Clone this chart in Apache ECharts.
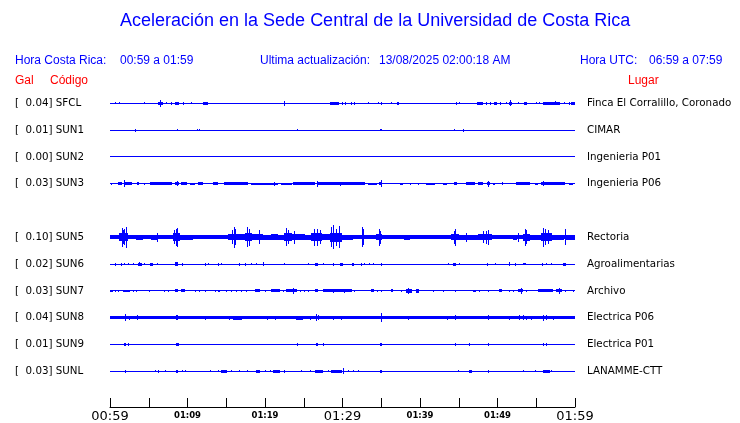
<!DOCTYPE html>
<html>
<head>
<meta charset="utf-8">
<title>Aceleración Sede Central</title>
<script src="https://cdn.jsdelivr.net/npm/echarts@6/dist/echarts.min.js"></script>
<style>
  html, body { margin: 0; padding: 0; background: #fff; }
  #chart { width: 740px; height: 423px; }
</style>
</head>
<body>
<div id="chart"></div>
<script>
// estaciones (fila 4 queda vacia en el grafico)
const codes = ['SFCL', 'SUN1', 'SUN2', 'SUN3', 'SUN5', 'SUN6', 'SUN7', 'SUN8', 'SUN9', 'SUNL'];
const places = ['Finca El Corralillo, Coronado', 'CIMAR', 'Ingenieria P01', 'Ingenieria P06', 'Rectoria',
  'Agroalimentarias', 'Archivo', 'Electrica P06', 'Electrica P01', 'LANAMME-CTT'];
const peakGal = [0.04, 0.01, 0.00, 0.03, 0.10, 0.02, 0.03, 0.04, 0.01, 0.03];
const rows = [0, 1, 2, 3, 5, 6, 7, 8, 9, 10];
// ruido de fondo continuo (Gal)
const noiseGal = [0, 0, 0, 0, 0.016, 0, 0, 0.013, 0, 0];

// eventos: [minuto inicio, minuto fin, amplitud Gal]
const sfcl = [[0.73,0.73,.008],[1.2,1.2,.008],[4.43,4.43,.008],[6.3,6.9,.013],[6.58,6.58,.032],[7.31,7.31,.008],
  [7.96,7.96,.013],[8.5,8.85,.013],[9.46,9.46,.011],[10.49,10.49,.009],[12.0,12.7,.013],[22.49,22.49,.024],
  [28.4,29.6,.013],[30.0,30.0,.012],[30.45,30.45,.012],[31.18,31.18,.011],[31.53,31.53,.011],[33.33,33.33,.008],
  [34.62,34.62,.008],[35.01,35.01,.011],[36.26,36.26,.008],[37.05,37.35,.013],[44.73,44.73,.011],[45.16,45.16,.008],
  [47.4,48.1,.015],[48.6,48.6,.011],[49.16,49.16,.011],[49.6,49.95,.013],[50.45,50.45,.011],[51.1,51.1,.009],
  [51.6,51.9,.013],[51.74,51.74,.026],[52.69,52.69,.009],[53.5,53.75,.013],[55.05,55.05,.008],[55.48,55.48,.009],
  [55.9,58.1,.013],[57.5,57.5,.017],[58.62,58.62,.009],[59.23,59.23,.011],[59.5,60,.013]];
const sun1 = [[3.35,3.35,.013],[8.69,8.69,.008],[11.27,11.27,.011],[11.61,11.61,.011],[24.17,24.17,.008],
  [34.88,35.06,.011],[44.39,44.39,.008],[45.59,45.59,.013]];
const sun2 = [];
const sun3 = [[0.13,0.13,.009],[1.08,1.51,.011],[1.81,1.81,.030],[1.94,2.80,.013],[3.53,3.78,.013],[4.43,4.43,.009],
  [5.25,7.96,.011],[5.8,7.1,.013],[8.47,8.90,.013],[8.73,8.73,.022],[9.25,9.89,.011],[10.45,10.97,.009],
  [11.40,12.04,.011],[13.33,13.98,.013],[14.71,17.85,.013],[18.28,21.72,.010],[21.29,21.29,.017],[22.15,23.44,.010],
  [23.66,26.45,.013],[26.75,26.75,.026],[26.88,32.90,.013],[29.68,29.68,.017],[33.33,34.41,.010],[34.8,35.15,.013],
  [34.97,34.97,.030],[37.42,37.85,.009],[38.71,38.71,.009],[39.78,39.78,.009],[40.86,41.94,.010],[43.01,43.44,.009],
  [44.43,44.73,.013],[46.02,47.10,.013],[47.53,48.17,.013],[48.65,49.0,.013],[48.82,48.82,.026],[49.46,49.68,.009],
  [50.62,50.62,.011],[52.47,54.19,.013],[54.84,55.27,.010],[55.70,58.71,.013],[55.91,55.91,.020],[59.35,59.78,.010]];
const sun5 = [[0,1.29,.018],[1.29,2.37,.034],[1.59,1.59,.081],[1.72,1.72,.060],[1.85,1.85,.070],[2.15,2.15,.093],
  [2.37,3.44,.018],[3.44,4.30,.023],[4.30,8.17,.017],[5.38,6.24,.020],[6.11,6.11,.039],
  [8.17,9.03,.034],[8.35,8.35,.060],[8.52,8.52,.072],[8.69,8.69,.084],[9.03,10.75,.020],
  [10.75,13.12,.016],[12.26,12.69,.018],[13.12,15.27,.018],[15.27,16.56,.028],[15.8,15.8,.060],[16.04,16.04,.091],
  [16.22,16.22,.070],[16.56,17.42,.025],[17.42,18.28,.034],[17.68,17.68,.087],[17.94,17.94,.074],[18.28,19.78,.025],
  [19.23,19.23,.061],[19.78,22.58,.021],[20.86,21.72,.026],[22.58,23.44,.034],[22.80,22.80,.078],[23.01,23.01,.061],
  [23.44,25.16,.026],[23.87,23.87,.057],[25.16,26.02,.020],[26.02,27.31,.035],[26.45,26.45,.076],[26.80,26.80,.072],
  [27.10,27.10,.061],[27.31,28.39,.026],[28.39,29.89,.038],[28.60,28.60,.087],[28.82,28.82,.107],[29.2,29.2,.075],
  [29.59,29.59,.096],[29.89,31.40,.023],[31.40,34.41,.018],[32.56,32.56,.087],[32.69,32.69,.070],
  [34.41,35.14,.028],[34.71,34.71,.072],[34.88,34.88,.057],[35.14,39.14,.018],[38.06,38.71,.023],[39.14,44.09,.016],
  [39.78,42.37,.018],[44.09,45.03,.028],[44.43,44.43,.057],[44.60,44.60,.072],[45.03,47.53,.020],[46.02,46.02,.039],
  [46.56,47.10,.023],[47.53,49.25,.028],[48.17,48.17,.052],[48.6,48.6,.057],[48.82,48.82,.067],[49.25,53.33,.018],
  [52.1,52.5,.021],[52.69,52.69,.039],[53.33,54.19,.030],[53.55,53.55,.072],[53.76,53.76,.061],[54.19,55.70,.020],
  [55.70,56.99,.034],[55.91,55.91,.081],[56.13,56.13,.070],[56.56,56.56,.061],[56.99,58.62,.020],[58.80,58.80,.070],
  [58.92,60,.023]];
const sun6 = [[0.65,0.8,.013],[1.51,1.51,.013],[1.85,1.85,.011],[2.45,2.45,.009],[3.01,3.01,.009],[3.66,4.09,.013],
  [3.87,3.87,.020],[4.43,4.43,.009],[5.25,5.59,.013],[6.15,6.15,.009],[8.39,8.82,.015],[9.33,9.33,.013],
  [12.26,12.26,.013],[12.69,12.69,.009],[14.06,14.06,.013],[14.41,14.41,.009],[16.77,16.77,.013],[17.42,17.42,.013],
  [18.28,18.28,.009],[18.92,18.92,.009],[19.78,19.78,.017],[22.58,22.58,.009],[25.59,25.59,.009],[26.54,26.80,.013],
  [27.61,27.61,.011],[28.82,28.82,.013],[29.72,30.11,.013],[31.27,31.53,.013],[32.47,32.47,.013],[32.82,32.82,.011],
  [33.42,33.42,.011],[34.02,34.02,.011],[34.97,34.97,.013],[43.66,43.66,.011],[44.30,44.60,.013],[45.08,45.08,.009],
  [48.73,48.73,.013],[49.76,49.76,.009],[51.61,51.61,.017],[52.26,52.26,.013],[53.33,53.63,.011],[55.78,55.78,.013],
  [56.34,56.34,.009],[56.99,56.99,.009],[58.54,58.84,.013]];
const sun7 = [[0,0.43,.011],[0.65,0.65,.009],[1.08,1.08,.009],[1.72,2.58,.011],[3.01,3.01,.011],[3.44,3.44,.009],
  [5.16,5.16,.009],[7.01,7.01,.009],[7.53,7.53,.009],[8.39,8.82,.013],[9.25,9.68,.013],[11.05,11.05,.009],
  [11.61,11.61,.009],[12.26,12.26,.009],[13.55,13.55,.009],[13.98,14.19,.011],[15.05,15.05,.009],[15.70,15.70,.009],
  [16.34,16.34,.009],[16.99,16.99,.011],[17.63,17.63,.009],[18.71,19.35,.013],[20.0,20.0,.011],[20.86,21.94,.013],
  [22.37,22.37,.009],[22.80,24.09,.013],[23.66,23.66,.026],[24.52,24.52,.009],[25.16,25.16,.009],[25.59,25.59,.009],
  [26.58,26.88,.013],[27.53,31.18,.013],[28.82,28.82,.017],[30.32,30.32,.017],[31.61,31.61,.011],[33.76,34.11,.013],
  [34.54,34.54,.009],[34.97,34.97,.011],[36.34,36.56,.013],[37.63,37.63,.009],[38.28,38.92,.015],[38.58,38.58,.026],
  [39.57,39.87,.015],[41.72,41.72,.009],[43.01,43.01,.011],[44.52,44.52,.009],[46.88,47.18,.011],[47.74,47.74,.009],
  [48.82,48.82,.011],[50.32,50.62,.013],[51.61,51.61,.009],[52.04,52.04,.009],[52.69,53.33,.013],[53.12,53.12,.023],
  [53.76,53.76,.009],[55.27,57.20,.013],[57.63,58.28,.013],[57.98,57.98,.029],[58.71,58.71,.009],[59.78,59.78,.009]];
const sun8 = [[0,1.1,.015],[1.94,1.94,.029],[2.58,2.58,.017],[3.57,3.57,.020],[8.60,8.82,.020],[12.26,12.26,.017],
  [15.48,15.48,.017],[15.91,16.99,.017],[20.34,20.34,.017],[21.38,21.38,.017],[24.09,24.95,.018],[25.81,25.81,.017],
  [26.67,26.67,.030],[26.88,26.88,.022],[28.86,28.86,.017],[29.81,29.81,.017],[34.97,34.97,.041],[38.58,38.58,.017],
  [43.57,43.57,.017],[44.52,44.52,.020],[48.90,48.90,.023],[51.61,51.61,.017],[52.90,52.90,.022],[53.33,53.33,.020],
  [53.76,53.76,.017],[54.41,54.41,.017],[55.91,55.91,.026],[56.34,56.34,.022],[57.20,57.20,.017],[58.3,60,.015]];
const sun9 = [[1.85,2.06,.013],[2.45,2.45,.009],[8.52,8.73,.011],[8.90,8.90,.009],[24.17,24.17,.009],[26.67,26.88,.013],
  [27.53,27.53,.009],[34.88,35.05,.013],[44.60,44.60,.009],[46.37,46.37,.009],[48.90,48.90,.011],[55.91,55.91,.009],
  [56.34,56.34,.011]];
const sunl = [[2.02,2.02,.011],[5.89,5.89,.009],[6.32,6.32,.011],[7.18,7.18,.009],[8.52,8.73,.013],[9.33,9.33,.009],
  [9.68,9.68,.009],[13.03,13.03,.009],[14.06,14.06,.009],[14.41,15.05,.011],[15.70,15.70,.009],[16.77,16.77,.009],
  [17.76,17.76,.009],[18.84,19.35,.013],[20.0,20.0,.009],[20.77,20.77,.009],[21.08,21.94,.013],[22.58,22.58,.011],
  [24.73,24.73,.009],[25.81,25.81,.009],[26.54,27.53,.013],[28.17,28.17,.009],[28.60,29.98,.013],[30.19,30.19,.026],
  [30.75,30.75,.009],[31.40,31.40,.009],[32.04,32.04,.009],[34.88,35.05,.013],[45.03,45.03,.009],[46.37,46.67,.011],
  [48.82,48.95,.013],[53.33,53.33,.009],[54.84,54.84,.009],[55.91,56.77,.013],[56.99,56.99,.009]];
const events = [sfcl, sun1, sun2, sun3, sun5, sun6, sun7, sun8, sun9, sunl];

// eje de tiempo (minutos desde 00:59)
const timeLabels = ['00:59', '', '01:09', '', '01:19', '', '01:29', '', '01:39', '', '01:49', '', '01:59'];
const bigLabels = ['00:59', '01:29', '01:59'];

const GAIN = 115 / 27; // filas por Gal
const BLUE = '#0000ff';

const traceData = [];
codes.forEach((c, i) => {
  traceData.push([0, 60, noiseGal[i], rows[i]]);
  events[i].forEach(e => traceData.push([e[0], e[1], e[2], rows[i]]));
});

function stationAt(v) {
  if (Math.abs(v - Math.round(v)) > 1e-6) return -1;
  return rows.indexOf(Math.round(v));
}

const chart = echarts.init(document.getElementById('chart'));
const txt = { color: BLUE, fontSize: 12, fontFamily: 'Liberation Sans', fontWeight: 'normal' };
const red = Object.assign({}, txt, { color: '#ff0000' });
const head = (text, left, top, style) => ({ text, left, top, padding: 0, textStyle: style });

chart.setOption({
  animation: false,
  backgroundColor: '#fff',
  title: [
    { text: 'Aceleración en la Sede Central de la Universidad de Costa Rica', left: 120, top: 12, padding: 0,
      textStyle: { color: BLUE, fontSize: 18, fontFamily: 'Liberation Sans', fontWeight: 'normal' } },
    head('Hora Costa Rica:', 15, 55, txt),
    head('00:59 a 01:59', 120, 55, txt),
    head('Ultima actualización:', 260, 55, txt),
    head('13/08/2025 02:00:18 AM', 379, 55, txt),
    head('Hora UTC:', 580, 55, txt),
    head('06:59 a 07:59', 649, 55, txt),
    head('Gal', 15, 75, red),
    head('Código', 50, 75, red),
    head('Lugar', 628, 75, red)
  ],
  grid: { left: 110, right: 165, top: 76.5, bottom: 13.5 },
  xAxis: {
    type: 'value', min: 0, max: 60, interval: 5,
    axisLine: { onZero: false, lineStyle: { color: '#000', width: 1 } },
    axisTick: { inside: true, length: 9, lineStyle: { color: '#000' } },
    splitLine: { show: false },
    axisLabel: {
      margin: 2, color: '#000',
      formatter: v => {
        const s = timeLabels[Math.round(v / 5)];
        if (!s) return '';
        return bigLabels.includes(s) ? '{big|' + s + '}' : '{small|' + s + '}';
      },
      rich: {
        big: { fontSize: 13, fontFamily: 'DejaVu Sans', lineHeight: 15, color: '#000' },
        small: { fontSize: 8.5, fontWeight: 'bold', fontFamily: 'DejaVu Sans', lineHeight: 13, color: '#000' }
      }
    }
  },
  yAxis: [
    {
      type: 'value', min: -1, max: 11 + 1 / 3, interval: 1, inverse: true, position: 'left',
      axisLine: { show: false }, axisTick: { show: false }, splitLine: { show: false },
      axisLabel: {
        margin: 95, align: 'left', color: '#000', fontSize: 10.3, fontFamily: 'DejaVu Sans',
        formatter: v => {
          const i = stationAt(v);
          return i < 0 ? '' : '[  ' + peakGal[i].toFixed(2) + '] ' + codes[i];
        }
      }
    },
    {
      type: 'value', min: -1, max: 11 + 1 / 3, interval: 1, inverse: true, position: 'right',
      axisLine: { show: false }, axisTick: { show: false }, splitLine: { show: false },
      axisLabel: {
        margin: 12, color: '#000', fontSize: 10.3, fontFamily: 'DejaVu Sans',
        formatter: v => {
          const i = stationAt(v);
          return i < 0 ? '' : places[i];
        }
      }
    }
  ],
  series: [{
    type: 'custom',
    data: traceData,
    encode: { x: [0, 1], y: 3 },
    clip: false,
    renderItem: (params, api) => {
      const row = api.value(3);
      const p0 = api.coord([api.value(0), row]);
      const p1 = api.coord([api.value(1), row]);
      const h = Math.max(0.5, api.size([0, api.value(2) * GAIN])[1]);
      const top = Math.round(p0[1] - h);
      const bottom = Math.max(top + 1, Math.round(p0[1] + h));
      const left = Math.floor(p0[0]);
      const right = Math.max(left + 1, Math.round(p1[0]));
      return {
        type: 'rect',
        shape: { x: left, y: top, width: right - left, height: bottom - top },
        style: { fill: BLUE }
      };
    }
  }]
});
</script>
</body>
</html>
